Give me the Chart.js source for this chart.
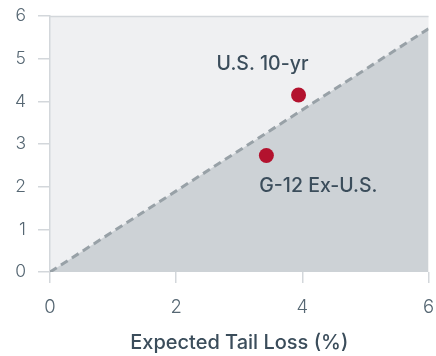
<!DOCTYPE html>
<html>
<head>
<meta charset="utf-8">
<script src="https://cdn.jsdelivr.net/npm/chart.js@4/dist/chart.umd.min.js"></script>
<style>
html,body{margin:0;padding:0;background:#fff;}
#wrap{width:436px;height:356px;position:relative;}
</style>
</head>
<body>
<div id="wrap"><canvas id="c" width="436" height="356"></canvas></div>
<script>
// Data
const pointNames = ["U.S. 10-yr", "G-12 Ex-U.S."];
const tailLoss = [3.94, 3.43];       // x: Expected Tail Loss (%)
const yValues = [4.15, 2.73];        // y values
const diagonalX = [0, 6];
const diagonalY = [0, 5.7];
const xTicks = [0, 2, 4, 6];
const yTicks = [0, 1, 2, 3, 4, 5, 6];
const xTitle = "Expected Tail Loss (%)";

const TEXT = "#3b4d5b";
const TICKTXT = "#56677357".slice(0, 7);
const LINE = "#d3d7db";

const bgPlugin = {
  id: 'bg',
  beforeDraw(chart) {
    const {ctx, chartArea: a} = chart;
    ctx.save();
    ctx.fillStyle = "#eff0f2";
    ctx.fillRect(a.left, a.top, a.right - a.left, a.bottom - a.top);
    ctx.restore();
  },
  afterDraw(chart) {
    const {ctx, chartArea: a} = chart;
    ctx.save();
    ctx.strokeStyle = LINE;
    ctx.lineWidth = 1.5;
    ctx.beginPath();
    ctx.moveTo(a.left, a.top + 0.5);
    ctx.lineTo(a.right, a.top + 0.5);
    ctx.stroke();
    ctx.restore();
  }
};

const labelOffsets = [{dx: -36, dy: -25}, {dx: 52, dy: 36.5}];
const labelPlugin = {
  id: 'lbls',
  afterDatasetsDraw(chart) {
    const {ctx, scales: {x, y}} = chart;
    ctx.save();
    ctx.fillStyle = TEXT;
    ctx.font = "500 19.5px Inter";
    ctx.textAlign = "center";
    ctx.textBaseline = "alphabetic";
    pointNames.forEach((n, i) => {
      const px = x.getPixelForValue(tailLoss[i]);
      const py = y.getPixelForValue(yValues[i]);
      ctx.fillText(n, px + labelOffsets[i].dx, py + labelOffsets[i].dy);
    });
    ctx.restore();
  }
};

new Chart(document.getElementById('c'), {
  type: 'scatter',
  data: {
    datasets: [
      {
        type: 'scatter',
        data: tailLoss.map((v, i) => ({x: v, y: yValues[i]})),
        backgroundColor: "#b3122e",
        borderWidth: 0,
        pointRadius: 7.5,
        order: 0
      },
      {
        type: 'line',
        data: diagonalX.map((v, i) => ({x: v, y: diagonalY[i]})),
        borderColor: "#98a1a7",
        borderWidth: 3,
        borderDash: [8, 5],
        pointRadius: 0,
        fill: 'origin',
        backgroundColor: "#cdd2d6",
        order: 1
      }
    ]
  },
  options: {
    responsive: false,
    animation: false,
    layout: {padding: {top: 16, right: 6, left: 0, bottom: 0}},
    plugins: {legend: {display: false}, tooltip: {enabled: false}},
    scales: {
      x: {
        type: 'linear', min: 0, max: 6,
        afterBuildTicks(s) { s.ticks = xTicks.map(v => ({value: v})); },
        afterFit(s) { s.height = 84; s.paddingLeft = 0; s.paddingRight = 0; },
        grid: {drawOnChartArea: false, drawTicks: true, tickLength: 11, color: LINE, lineWidth: 1.5},
        border: {display: false},
        ticks: {color: TICKTXT, font: {family: 'Inter', weight: 300, size: 18.5}, padding: 13, maxRotation: 0},
        title: {display: true, text: xTitle, color: TEXT, font: {family: 'Inter', weight: 500, size: 20}, padding: {top: 12, bottom: 1}}
      },
      y: {
        type: 'linear', min: 0, max: 6,
        afterBuildTicks(s) { s.ticks = yTicks.map(v => ({value: v})); },
        afterFit(s) { s.width = 50; s.paddingTop = 0; s.paddingBottom = 0; },
        grid: {drawOnChartArea: false, drawTicks: true, tickLength: 12, color: LINE, lineWidth: 1.5},
        border: {display: true, color: LINE, width: 1.5},
        ticks: {color: TICKTXT, font: {family: 'Inter', weight: 300, size: 17.5}, padding: 12}
      }
    }
  },
  plugins: [bgPlugin, labelPlugin]
});
</script>
</body>
</html>
